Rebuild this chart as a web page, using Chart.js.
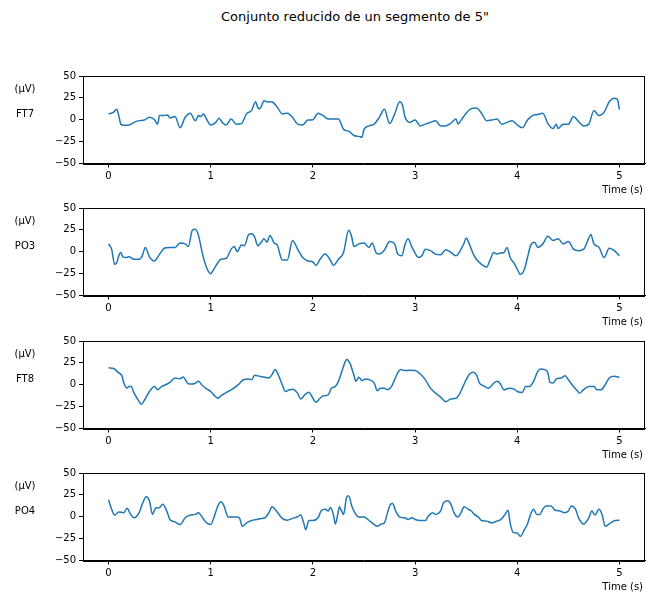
<!DOCTYPE html>
<html>
<head>
<meta charset="utf-8">
<script src="https://cdn.jsdelivr.net/npm/chart.js@4/dist/chart.umd.min.js"></script>
<style>
body { margin: 0; background: #fff; }
#fig { position: relative; width: 646px; height: 593px; }
#title { position: absolute; top: 9px; left: 0; width: 710px; text-align: center;
  font: 13px "DejaVu Sans"; color: #000; }
.panel { position: absolute; left: 0; width: 646px; height: 138px; }
</style>
</head>
<body>
<div id="fig">
  <div id="title">Conjunto reducido de un segmento de 5"</div>
  <div class="panel" style="top:66px"><canvas id="c0"></canvas></div>
  <div class="panel" style="top:198px"><canvas id="c1"></canvas></div>
  <div class="panel" style="top:331px"><canvas id="c2"></canvas></div>
  <div class="panel" style="top:463px"><canvas id="c3"></canvas></div>
</div>
<script>
'use strict'

var channels = ['FT7', 'PO3', 'FT8', 'PO4'];
var unitLabel = '(\u00b5V)';
var xTicks = [0, 1, 2, 3, 4, 5];
var yTicks = [-50, -25, 0, 25, 50];

// FT7
var tFT7 = [0,0.05,0.08,0.10,0.12,0.15,0.20,0.25,0.30,0.35,0.40,0.45,0.48,0.50,0.55,0.58,0.60,0.65,0.70,0.75,0.80,0.85,0.88,0.90,0.93,0.95,
  1.00,1.05,1.08,1.12,1.15,1.20,1.25,1.30,1.35,1.40,1.44,1.46,1.48,1.50,1.52,1.55,1.60,1.65,1.70,1.75,1.80,1.85,1.90,1.95,
  2.00,2.05,2.10,2.15,2.20,2.25,2.30,2.35,2.40,2.45,2.48,2.50,2.55,2.60,2.65,2.70,2.75,2.80,2.85,2.88,2.90,2.95,
  3.00,3.05,3.10,3.15,3.20,3.25,3.30,3.35,3.40,3.42,3.45,3.50,3.55,3.60,3.65,3.70,3.75,3.80,3.85,3.90,3.95,
  4.00,4.05,4.10,4.15,4.20,4.25,4.30,4.35,4.38,4.40,4.45,4.50,4.55,4.60,4.65,4.70,4.75,4.80,4.85,4.90,4.95,4.98,5.00];
var vFT7 = [6.7,8.7,12,4.8,-5,-6.3,-6,-3,-1,-0.4,2.8,0,-5,4.8,5,5.5,2,3.6,-9,2.8,7.5,-1.2,4.8,3.6,6.7,2.8,
  -6,-3,1.6,-4,-6,0.8,-5,-4.4,6.7,10.7,20.6,14,12.7,16.7,21.8,20.6,20.2,14.7,6.7,7.5,2.8,-5,-6,-0.4,
  0,7.5,4.8,0.8,0.8,0.8,-11,-13,-18,-19,-20,-11,-7,-5,2.8,12,-4.4,6.7,20.6,15.5,3.6,-3,
  -0.4,-7,-5,-3,-1,-7,-7,-4,0.8,-5,-0.4,7.5,12.7,13.5,7.5,-1,-0.4,0.8,-5,-3,-1,
  -6,-9,-0.4,4.8,6,7.5,-4.4,-10,-5,-10,-5,-5,3.6,-2,-7,-5,10.7,4.8,8.7,20.6,24.6,23.4,11.5];

// PO3
var tPO3 = [0,0.03,0.06,0.08,0.10,0.12,0.14,0.17,0.20,0.25,0.30,0.33,0.36,0.40,0.45,0.50,0.55,0.60,0.65,0.70,0.75,0.78,0.82,0.85,0.88,0.92,0.96,
  1.00,1.03,1.07,1.10,1.15,1.20,1.23,1.26,1.30,1.33,1.37,1.40,1.43,1.46,1.50,1.52,1.55,1.58,1.62,1.65,1.70,1.75,1.80,1.85,1.90,1.95,
  2.00,2.03,2.07,2.12,2.17,2.20,2.25,2.30,2.35,2.38,2.40,2.45,2.50,2.55,2.58,2.62,2.65,2.70,2.75,2.80,2.83,2.87,2.90,2.93,2.97,
  3.00,3.03,3.07,3.10,3.15,3.20,3.25,3.30,3.35,3.40,3.45,3.48,3.50,3.53,3.57,3.60,3.65,3.70,3.73,3.77,3.80,3.83,3.87,3.90,3.93,3.97,
  4.00,4.03,4.07,4.10,4.13,4.17,4.20,4.25,4.30,4.35,4.40,4.45,4.50,4.55,4.60,4.65,4.70,4.72,4.75,4.80,4.85,4.90,4.95,5.00];
var vPO3 = [9,3,-14.4,-12.5,-4.7,-0.8,-5.8,-6.6,-5.8,-8.6,-8.6,-4.7,5,-5.8,-10.5,-2.7,4.3,5,5,10,9,6,24.5,25.7,18.7,-2.7,-18.3,
  -25,-20,-12.5,-8.6,-7.8,3,6,0,7.8,7,19.5,20.6,16.8,7,11.7,14.8,11,18.7,10,7.8,-9.4,-9.4,12.9,3,-6.6,-10.5,
  -11.7,-15.6,-8.6,-2.7,-9.4,-15.6,-8.6,-0.8,24.5,16.8,6,9,10,5,10,-1.5,-2.7,2,11.7,9,-2.7,-4.7,7.8,14.8,5,
  -1.5,-6.6,-3.9,3,1.2,-2.7,-3.5,2.3,-0.8,-4.7,3,10,15.6,9,-2.7,-8.6,-14.4,-17.5,-10.5,-0.8,-2.7,-1.5,-0.8,5,-6.6,-13.3,
  -20,-26,-20,-6.6,7,11,5,9,17.7,12.9,14.8,9,11.7,3,1.2,3,15.6,19.8,9,5,-6.6,3.9,1.2,-4.7];

// FT8
var tFT8 = [0,0.05,0.10,0.13,0.15,0.18,0.20,0.22,0.25,0.30,0.32,0.35,0.40,0.45,0.48,0.52,0.56,0.60,0.65,0.70,0.73,0.78,0.82,0.85,0.88,0.92,0.96,
  1.00,1.03,1.07,1.10,1.15,1.20,1.25,1.28,1.32,1.37,1.40,1.43,1.48,1.52,1.57,1.60,1.63,1.66,1.70,1.73,1.77,1.80,1.85,1.88,1.92,1.96,
  2.00,2.03,2.07,2.10,2.15,2.18,2.22,2.25,2.30,2.33,2.36,2.40,2.42,2.45,2.48,2.52,2.55,2.60,2.63,2.66,2.70,2.73,2.77,2.80,2.83,2.86,2.90,2.95,
  3.00,3.05,3.10,3.15,3.20,3.25,3.30,3.35,3.40,3.43,3.47,3.50,3.53,3.56,3.60,3.63,3.67,3.72,3.77,3.80,3.83,3.87,3.92,3.97,
  4.00,4.05,4.08,4.12,4.16,4.20,4.23,4.27,4.30,4.32,4.35,4.38,4.43,4.47,4.50,4.55,4.58,4.61,4.64,4.70,4.75,4.78,4.82,4.86,4.90,4.95,5.00];
var vFT8 = [19.3,18.5,13.5,10.4,1.9,-3.9,-1.9,-1.9,-9.6,-19.3,-22.3,-18,-7.7,-1.9,-5.8,-1.9,0,2.7,7.7,6.9,8.9,1.2,0.8,1.9,3.9,-1.2,-4.6,
  -7.7,-11.6,-15.4,-12.7,-8.9,-5.8,-1.9,1.2,5.8,6.5,5.8,10.8,9.6,8.9,7.7,11.6,17.3,11.6,0,-7.7,-5.8,-5,-9.6,-16.2,-11.6,-8.5,
  -15.4,-20,-15.4,-12.7,-11.6,-3.9,-1.9,3.9,21.2,28.9,25,11.6,3.9,8.5,5,6.5,5.8,1.9,-6.9,-3.9,-3.9,-5.8,-1.9,5.8,13.5,17.3,16.2,16.5,
  16.2,12.3,5.8,-3.9,-9.6,-14.2,-19.3,-16.2,-15.4,-11.6,-1.9,5.8,11.6,14.2,11.6,1.9,-1.2,-3.9,1.9,3.9,1.9,-5.8,-3.9,-5,
  -7.7,-8.9,-1.9,-1.9,3.9,15.4,18.1,17.3,13.5,2.7,1.9,6.5,7.7,10.4,5.8,-1.9,-5.8,-9.6,-6.5,-1.9,-1.9,-5.8,-5.8,0,7.7,9.6,8.5];

// PO4
var tPO4 = [0,0.03,0.06,0.10,0.15,0.18,0.22,0.25,0.30,0.33,0.37,0.40,0.43,0.46,0.50,0.53,0.57,0.60,0.65,0.70,0.75,0.80,0.85,0.88,0.92,0.96,
  1.00,1.03,1.07,1.10,1.13,1.17,1.20,1.25,1.28,1.31,1.35,1.40,1.45,1.50,1.53,1.57,1.60,1.65,1.70,1.75,1.80,1.85,1.88,1.91,1.93,1.96,
  2.00,2.05,2.08,2.12,2.15,2.17,2.20,2.22,2.24,2.26,2.28,2.30,2.33,2.35,2.38,2.42,2.45,2.50,2.55,2.60,2.63,2.67,2.70,2.73,2.76,2.78,2.81,2.85,2.90,2.93,2.97,
  3.00,3.05,3.10,3.13,3.17,3.20,3.25,3.28,3.32,3.35,3.38,3.42,3.45,3.48,3.52,3.55,3.58,3.62,3.65,3.70,3.75,3.80,3.84,3.88,3.91,3.93,3.96,
  4.00,4.03,4.07,4.10,4.13,4.16,4.19,4.22,4.25,4.28,4.33,4.37,4.42,4.46,4.50,4.53,4.57,4.60,4.65,4.70,4.73,4.76,4.80,4.83,4.86,4.90,4.93,4.96,5.00];
var vPO4 = [19.4,8.6,1.9,5.4,4.7,9.7,1.9,-1.2,4.7,14.4,22.9,18.2,2.7,9.7,10.5,14.4,6.6,-3.1,-5.8,-8.9,-1.2,1.9,2.7,4.7,-1.2,-7,
  -8.9,-1.2,12.4,17.1,12.4,-0.4,-0.4,-0.4,-1.2,-10.9,-7,-4.3,-3.1,-1.9,-1.2,4.7,11.3,5.4,-1.9,-3.9,-1.9,0,1.9,-7,-14.8,-4.3,
  -4.3,-1.2,6.6,8.6,6.6,10.5,2.7,-8.2,0.8,11.3,6.6,2.7,22.2,24.1,12.4,2.7,-0.4,-0.4,-4.3,-8.9,-10.9,-8.2,-7,4.7,14.4,15.2,6.6,-0.4,-1.2,-3.1,-1.2,
  -3.1,-4.3,-4.3,0.8,4.7,2.7,6.6,16.3,18.2,14.4,4.7,-0.4,4.7,11.3,8.6,6.6,2.7,-0.4,-4.3,-5,-7,-5,-3.1,2.7,7.4,-7,-17.9,
  -18.6,-22.5,-14.8,-8.2,2.7,8.6,2.7,2.7,8.6,12.4,12.4,7.4,6.6,4.7,6.6,12.4,8.6,-1.2,-8.2,-1.2,6.6,1.9,8.6,2.7,-10.9,-8.2,-5.8,-4.3,-3.9];

var times = [tFT7, tPO3, tFT8, tPO4];
var values = [vFT7, vPO3, vFT8, vPO4];

var font = { family: 'DejaVu Sans', size: 10 };

// frame, left labels and "Time (s)"
var decor = {
	id: 'decor',
	afterDraw: function(chart) {
		var c = chart.ctx;
		var a = chart.chartArea;
		c.save();
		c.strokeStyle = '#000';
		c.lineWidth = 1;
		c.strokeRect(Math.round(a.left) + 0.5, Math.round(a.top) + 0.5, Math.round(a.right - a.left) - 1, Math.round(a.bottom - a.top));
		c.fillStyle = '#000';
		c.font = '10px "DejaVu Sans"';
		c.textBaseline = 'middle';
		c.textAlign = 'center';
		c.fillText(unitLabel, 25, a.top + 13);
		c.fillText(chart.options.plugins.decor.name, 25, a.top + 38);
		c.textAlign = 'right';
		c.fillText('Time (s)', a.right - 2, a.bottom + 27);
		c.restore();
	}
};

function makeChart(k) {
	var ctx = document.getElementById('c' + k).getContext('2d');
	var pts = times[k].map(function(t, j) { return { x: t, y: values[k][j] }; });
	return new Chart(ctx, {
		type: 'line',
		data: {
			datasets: [{
				data: pts,
				borderColor: '#1f77b4',
				borderWidth: 1.5,
				pointRadius: 0,
				fill: false,
				cubicInterpolationMode: 'monotone'
			}]
		},
		options: {
			responsive: true,
			maintainAspectRatio: false,
			animation: false,
			layout: { padding: { top: 10, right: 1, left: 0, bottom: 0 } },
			plugins: {
				legend: { display: false },
				tooltip: { enabled: false },
				decor: { name: channels[k] }
			},
			scales: {
				x: {
					type: 'linear',
					min: -0.25,
					max: 5.25,
					afterBuildTicks: function(s) { s.ticks = xTicks.map(function(v) { return { value: v }; }); },
					afterFit: function(s) { s.height = 40.5; },
					grid: { drawOnChartArea: false, drawTicks: true, tickLength: 4, color: '#000' },
					border: { display: true, color: '#000', width: 1 },
					ticks: { font: font, color: '#000', padding: 3, maxRotation: 0 }
				},
				y: {
					min: -50,
					max: 50,
					afterBuildTicks: function(s) { s.ticks = yTicks.map(function(v) { return { value: v }; }); },
					afterFit: function(s) { s.width = 83; },
					grid: { drawOnChartArea: false, drawTicks: true, tickLength: 4, color: '#000' },
					border: { display: true, color: '#000', width: 1 },
					ticks: {
						font: font, color: '#000', padding: 3,
						callback: function(v) { return v < 0 ? '\u2212' + Math.abs(v) : '' + v; }
					}
				}
			}
		},
		plugins: [decor]
	});
}

window.onload = function() {
	for (var k = 0; k < 4; k++) makeChart(k);
};
</script>
</body>
</html>
